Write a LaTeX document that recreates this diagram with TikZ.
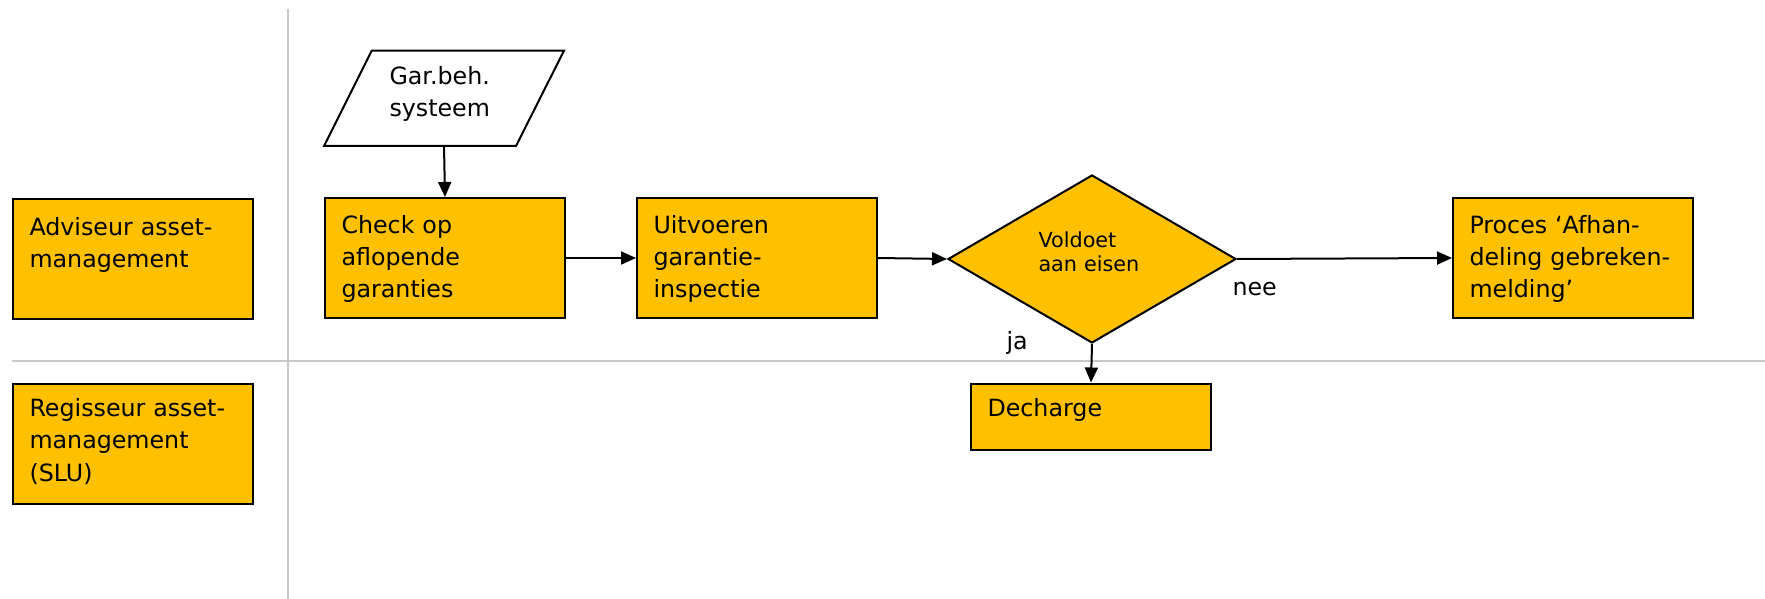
\documentclass[tikz,border=0pt]{standalone}
\usepackage{fontspec}
\setmainfont{DejaVu Sans}
\usepackage{xcolor}
\usepackage{tikz}
\usetikzlibrary{shapes.geometric, arrows.meta}

\definecolor{taakgeel}{HTML}{FFC000}
\definecolor{baangrijs}{HTML}{C8C8C8}
\newcommand\taakfont{\fontsize{9.5}{12.9}\selectfont}
\newcommand\ruitfont{\fontsize{8.3}{9.9}\selectfont}

\tikzset{
  taak/.style={draw, fill=taakgeel, line width=0.8pt, anchor=north west, inner sep=0pt,
    minimum width=96pt, minimum height=48pt},
  taaktekst/.style={anchor=base west, align=left, text width=90pt, inner sep=0pt,
    font=\taakfont, xshift=6.8pt, yshift=#1},
  taaktekst/.default=-14.5pt,
  ruit/.style={diamond, draw, fill=taakgeel, line width=0.8pt, inner sep=0pt,
    minimum width=115.2pt, minimum height=67.2pt},
  ruittekst/.style={anchor=base west, align=left, text width=50pt, inner sep=0pt,
    font=\ruitfont, xshift=-21.6pt, yshift=-29.2pt},
  pijl/.style={line width=0.8pt, -{Triangle[length=6pt, width=5.2pt]}},
  baan/.style={draw=baangrijs, line width=0.8pt},
  los/.style={anchor=base west, inner sep=0pt, font=\taakfont},
}

\begin{document}
\begin{tikzpicture}[x=0.4pt, y=-0.4pt]
\useasboundingbox (0,0) rectangle (1765,599);
\draw [baan] (288,9) -- (288,599);
\draw [baan] (12,361) -- (1765,361);

\node [taak, label={[taaktekst=-14.8pt]north west:Adviseur asset-\\management}] (adviseur) at (12,198) {};
\node [taak, label={[taaktekst=-13.6pt]north west:Regisseur asset-\\management\\(SLU)}] (regisseur) at (12,382.5) {};

\draw [line width=0.8pt, fill=white] (371.7,50.7) -- (564,50.7) -- (516,146) -- (324,146) -- cycle;
\node [los, align=left, text width=60pt] (garbeh) at (389,84.3) {Gar.beh.\\systeem};
\coordinate (garbeh-onder) at (444,146);

\node [taak, label={[taaktekst]north west:Check op\\aflopende\\garanties}] (check) at (324,197) {};
\node [taak, label={[taaktekst]north west:Uitvoeren\\garantie-\\inspectie}] (uitvoeren) at (636,197) {};
\node [ruit, label={[ruittekst]north:Voldoet\\aan eisen}] (voldoet) at (1092,259) {};
\node [taak, label={[taaktekst]north west:Proces ‘Afhan-\\deling gebreken-\\melding’}] (proces) at (1452,197) {};
\node [taak, minimum height=26.7pt, label={[taaktekst=-13.7pt]north west:Decharge}] (decharge) at (970,382.5) {};

\draw [pijl] (garbeh-onder) -- (check.north);
\draw [pijl] (check.east) -- (uitvoeren.west);
\draw [pijl] (uitvoeren.east) -- (voldoet.west);
\draw [pijl] (voldoet.east) -- (proces.west);
\draw [pijl] (voldoet.south) -- (decharge.north);
\node [los] (nee) at (1232,295) {nee};
\node [los] (ja) at (1006,349) {ja};
\end{tikzpicture}
\end{document}
